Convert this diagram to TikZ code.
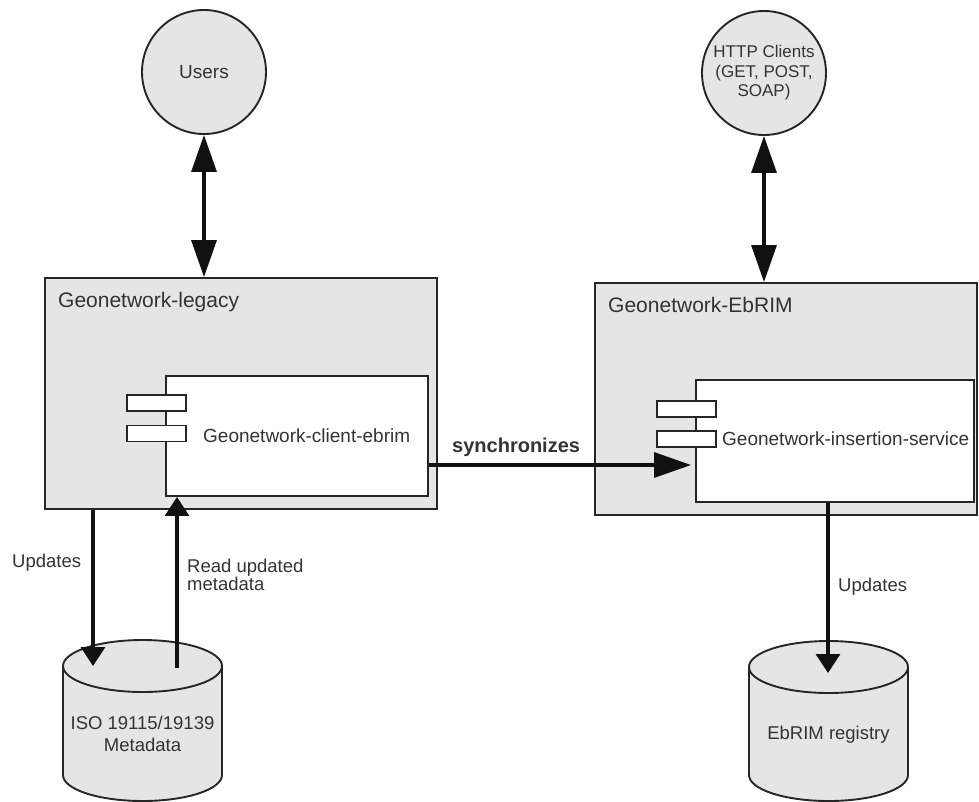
\documentclass[tikz,border=0pt]{standalone}
\usepackage{fontspec}
\setmainfont{Liberation Sans}
\usetikzlibrary{arrows.meta,calc}
\definecolor{ln}{HTML}{262626}
\definecolor{arr}{HTML}{111111}
\definecolor{txt}{HTML}{333333}
\definecolor{shade}{HTML}{E5E5E5}
\begin{document}
\begin{tikzpicture}[x=1pt,y=-1pt,
  every node/.style={text=txt},
  actor/.style={circle,draw=ln,line width=1.9pt,fill=shade,minimum size=124pt,inner sep=0pt},
  pkg/.style={rectangle,draw=ln,line width=1.9pt,fill=shade,inner sep=0pt},
  comp/.style={rectangle,draw=ln,line width=1.9pt,fill=white,inner sep=0pt},
  port/.style={rectangle,draw=ln,line width=1.9pt,fill=white,minimum width=59pt,minimum height=16pt,inner sep=0pt},
  bigarrow/.style={draw=arr,line width=3.2pt,-{Triangle[length=37pt,width=25pt]}},
  bigdbl/.style={draw=arr,line width=3.2pt,{Triangle[length=37pt,width=25pt]}-{Triangle[length=37pt,width=25pt]}},
  smallarrow/.style={draw=arr,line width=3.2pt,-{Triangle[length=19pt,width=24pt]}},
  cyl/.style={draw=ln,line width=1.9pt,fill=shade},
  lbl/.style={font=\fontsize{18.5}{15}\selectfont,align=left,inner sep=0pt}
]
\useasboundingbox (0,0) rectangle (979,801);

% actors
\node[actor,font=\fontsize{19}{22}\selectfont] (users) at (204,72) {Users};
\node[actor,font=\fontsize{17}{19.5}\selectfont,align=center] (http) at (764,73) {HTTP Clients\\(GET, POST,\\SOAP)};

% packages
\node[pkg,minimum width=392pt,minimum height=231pt] (legacy) at (241,393.5) {};
\node[anchor=west,inner sep=0pt,font=\fontsize{21}{24}\selectfont] (legacyt) at (58,302) {Geonetwork-legacy};
\node[comp,minimum width=262pt,minimum height=120pt] (client) at (297,436) {};
\node[port] (cp1) at (156.5,403) {};
\node[port] (cp2) at (156.5,433.5) {};
\node[anchor=west,inner sep=0pt,font=\fontsize{19}{22}\selectfont] (clientt) at (203,436) {Geonetwork-client-ebrim};

\node[pkg,minimum width=382pt,minimum height=232pt] (ebrim) at (786,399) {};
\node[anchor=west,inner sep=0pt,font=\fontsize{21}{24}\selectfont] (ebrimt) at (608,305) {Geonetwork-EbRIM};
\node[comp,minimum width=278pt,minimum height=122pt] (insert) at (835,441) {};
\node[port] (ip1) at (686.5,409) {};
\node[port] (ip2) at (686.5,439) {};
\node[anchor=west,inner sep=0pt,font=\fontsize{19}{22}\selectfont] (insertt) at (722,439) {Geonetwork-insertion-service};

% cylinders
\path[cyl] (63,666) -- (63,775) arc[start angle=180,end angle=360,x radius=79.5pt,y radius=26pt] -- (222,666);
\draw[cyl] (142.5,666) ellipse [x radius=79.5pt,y radius=26pt];
\node[inner sep=0pt,align=center,font=\fontsize{18.5}{22}\selectfont] (iso) at (142.5,734) {ISO 19115/19139\\Metadata};

\path[cyl] (749,667) -- (749,775) arc[start angle=180,end angle=360,x radius=79.5pt,y radius=26pt] -- (908,667);
\draw[cyl] (828.5,667) ellipse [x radius=79.5pt,y radius=26pt];
\node[inner sep=0pt,font=\fontsize{18.5}{22}\selectfont] (reg) at (828.5,735) {EbRIM registry};

% connector end points
\coordinate (isoIn) at (93,666);
\coordinate (isoOut) at (177,668);
\coordinate (regIn) at (828,673);

% connectors
\draw[bigdbl] (users.south) -- (users.south |- legacy.north);
\draw[bigdbl] (http.south) -- (http.south |- ebrim.north);
\draw[bigarrow] ([yshift=-29pt]client.east) -- ([yshift=-24pt,xshift=-4pt]insert.west);
\draw[smallarrow] (isoIn |- legacy.south) -- (isoIn);
\draw[smallarrow] (isoOut) -- (isoOut |- client.south);
\draw[smallarrow] (regIn |- insert.south) -- (regIn);

% labels
\node[anchor=west,inner sep=0pt,font=\bfseries\fontsize{20}{22}\selectfont] (sync) at (452,447) {synchronizes};
\node[lbl,anchor=west] (upd1) at (12,563) {Updates};
\node[lbl,anchor=north west] (read) at (187,559) {Read updated\\metadata};
\node[lbl,anchor=west] (upd2) at (838,587) {Updates};
\end{tikzpicture}
\end{document}
